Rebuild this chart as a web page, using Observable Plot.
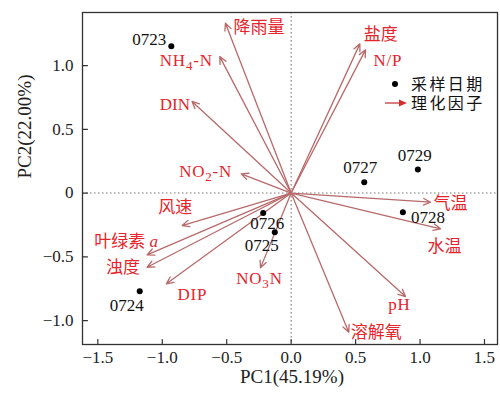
<!DOCTYPE html>
<html><head><meta charset="utf-8">
<script src="https://cdn.jsdelivr.net/npm/d3@7"></script>
<script src="https://cdn.jsdelivr.net/npm/@observablehq/plot@0.6"></script>
<style>
body{margin:0;background:#fff;}
#wrap{position:relative;width:500px;height:393px;}
.leg{position:absolute;font-family:"Noto Sans CJK SC";font-size:16px;letter-spacing:2.4px;color:#111;line-height:1;white-space:nowrap;}
</style></head><body><div id="wrap"></div>
<script>
// Sampling dates (scores)
const sampleDates = ["0723","0724","0725","0726","0727","0728","0729"];
const samplePC1 = [-0.93,-1.175,-0.127,-0.217,0.567,0.867,0.983];
const samplePC2 = [1.151,-0.770,-0.307,-0.156,0.085,-0.151,0.184];
// Environmental factors (loadings)
const factors = ["降雨量","NH4-N","盐度","N/P","DIN","NO2-N","风速","叶绿素 a","浊度","DIP","NO3N","溶解氧","pH","气温","水温"];
const factorPC1 = [-0.51,-0.554,0.533,0.577,-0.769,-0.388,-0.846,-1.118,-1.118,-0.968,-0.238,0.447,0.887,1.082,1.159];
const factorPC2 = [1.332,1.07,1.17,1.123,0.718,0.151,-0.255,-0.485,-0.582,-0.712,-0.587,-1.092,-0.812,-0.072,-0.281];
// Ticks
const xTickValues = [-1.5,-1,-0.5,0,0.5,1,1.5];
const xTickLabels = ["−1.5","−1.0","−0.5","0.0","0.5","1.0","1.5"];
const yTickValues = [1,0.5,0,-0.5,-1];
const yTickLabels = ["1.0","0.5","0","−0.5","−1.0"];
const xTitle = "PC1(45.19%)";
const yTitle = "PC2(22.00%)";
const legendLabels = ["采样日期","理化因子"];

// label placement (style): [textAnchor, dx, dy]
const factorLabelPos = [["start",8,4],["end",-7,4],["start",4,-9],["start",8,11],["end",-2,3],["end",-9,-2],["middle",-7,-18],["end",11,-13],["end",-7,0],["start",11,11],["middle",-1,11],["start",2,0],["middle",-6,8],["start",3,1],["middle",4,18]];
const sampleLabelPos = [["end",-5,-7],["middle",-13,14],["middle",-13,13],["middle",4,11],["middle",-4,-15],["start",8,5],["middle",-3,-14]];

const samples = sampleDates.map((d,i)=>({label:d,x:samplePC1[i],y:samplePC2[i]}));
const loads = factors.map((f,i)=>({label:f,x:factorPC1[i],y:factorPC2[i]}));

const FONT = "'Liberation Serif','Noto Sans CJK SC',serif";
const arrowColor = "#b86a6a";
const labelColor = "#e5242c";
const axisColor = "#333";
const tickShape = {draw(ctx, l){ ctx.moveTo(0,0); ctx.lineTo(0,-l); }};

const marks = [
  Plot.ruleX([0], {stroke:"#777", strokeDasharray:"1.5,2.5", strokeWidth:1.1}),
  Plot.ruleY([0], {stroke:"#777", strokeDasharray:"1.5,2.5", strokeWidth:1.1}),
  Plot.arrow(loads, {x1:()=>0, y1:()=>0, x2:"x", y2:"y", stroke:arrowColor, strokeWidth:1.3, headLength:9, headAngle:50}),
  Plot.dot(samples, {x:"x", y:"y", r:3, fill:"#000"}),
  ...loads.map((d,i)=>Plot.text([d], {x:"x", y:"y", text:"label", fill:labelColor, fontSize:17, fontFamily:FONT, textAnchor:factorLabelPos[i][0], dx:factorLabelPos[i][1], dy:factorLabelPos[i][2]})),
  ...samples.map((d,i)=>Plot.text([d], {x:"x", y:"y", text:"label", fill:"#111", fontSize:17, fontFamily:FONT, textAnchor:sampleLabelPos[i][0], dx:sampleLabelPos[i][1], dy:sampleLabelPos[i][2]})),
  Plot.frame({stroke:axisColor, strokeWidth:1.3}),
  Plot.vector(xTickValues, {x:d=>d, frameAnchor:"bottom", length:5, rotate:0, anchor:"start", shape:tickShape, stroke:axisColor, strokeWidth:1.2}),
  Plot.vector(yTickValues, {y:d=>d, frameAnchor:"left", length:5, rotate:90, anchor:"start", shape:tickShape, stroke:axisColor, strokeWidth:1.2}),
  Plot.axisX(xTickValues, {tickSize:0, tickPadding:6, tickFormat:d=>xTickLabels[xTickValues.indexOf(d)], fontSize:17, fontFamily:FONT, fill:"#222", label:null}),
  Plot.axisY(yTickValues, {tickSize:0, tickPadding:9, tickFormat:d=>yTickLabels[yTickValues.indexOf(d)], fontSize:17, fontFamily:FONT, fill:"#222", label:null}),
  Plot.text([xTitle], {text:d=>d, frameAnchor:"bottom", dy:38, dx:2, fontSize:19, fontFamily:FONT, fill:"#222"}),
  Plot.text([yTitle], {text:d=>d, frameAnchor:"left", dx:-58, rotate:-90, fontSize:19, fontFamily:FONT, fill:"#222"})
];

const chart = Plot.plot({
  width:500, height:393,
  marginLeft:82, marginRight:3, marginTop:12, marginBottom:49,
  x:{domain:[-1.619,1.601]},
  y:{domain:[-1.188,1.416]},
  style:{background:"#fff", fontFamily:FONT},
  marks
});

const subs = {
  "NH4-N":'NH<tspan dy="4" font-size="13">4</tspan><tspan dy="-4">-N</tspan>',
  "NO2-N":'NO<tspan dy="4" font-size="13">2</tspan><tspan dy="-4">-N</tspan>',
  "NO3N":'NO<tspan dy="4" font-size="13">3</tspan><tspan dy="-4">N</tspan>',
  "叶绿素 a":'叶绿素 <tspan font-style="italic">a</tspan>'
};
const spaced = new Set(["NH4-N","NO2-N","NO3N","N/P","pH","DIP"]);
chart.querySelectorAll("text").forEach(t=>{
  const s = t.textContent;
  if (spaced.has(s)) t.setAttribute("letter-spacing","0.8");
  if (subs[s]) t.innerHTML = subs[s];
});

const wrap = document.getElementById("wrap");
wrap.appendChild(chart);
const leg = document.createElement("div");
leg.innerHTML = `
<svg style="position:absolute;left:0;top:0" width="500" height="393">
  <circle cx="395" cy="84" r="3" fill="#000"/>
  <line x1="385" y1="103" x2="401" y2="103" stroke="#c0393b" stroke-width="1.3"/>
  <path d="M399,99.5 L407,103 L399,106.5 Z" fill="#d32f2f"/>
</svg>
<div class="leg" style="left:411px;top:75px">${legendLabels[0]}</div>
<div class="leg" style="left:411px;top:94px">${legendLabels[1]}</div>`;
wrap.appendChild(leg);
</script>
</body></html>
